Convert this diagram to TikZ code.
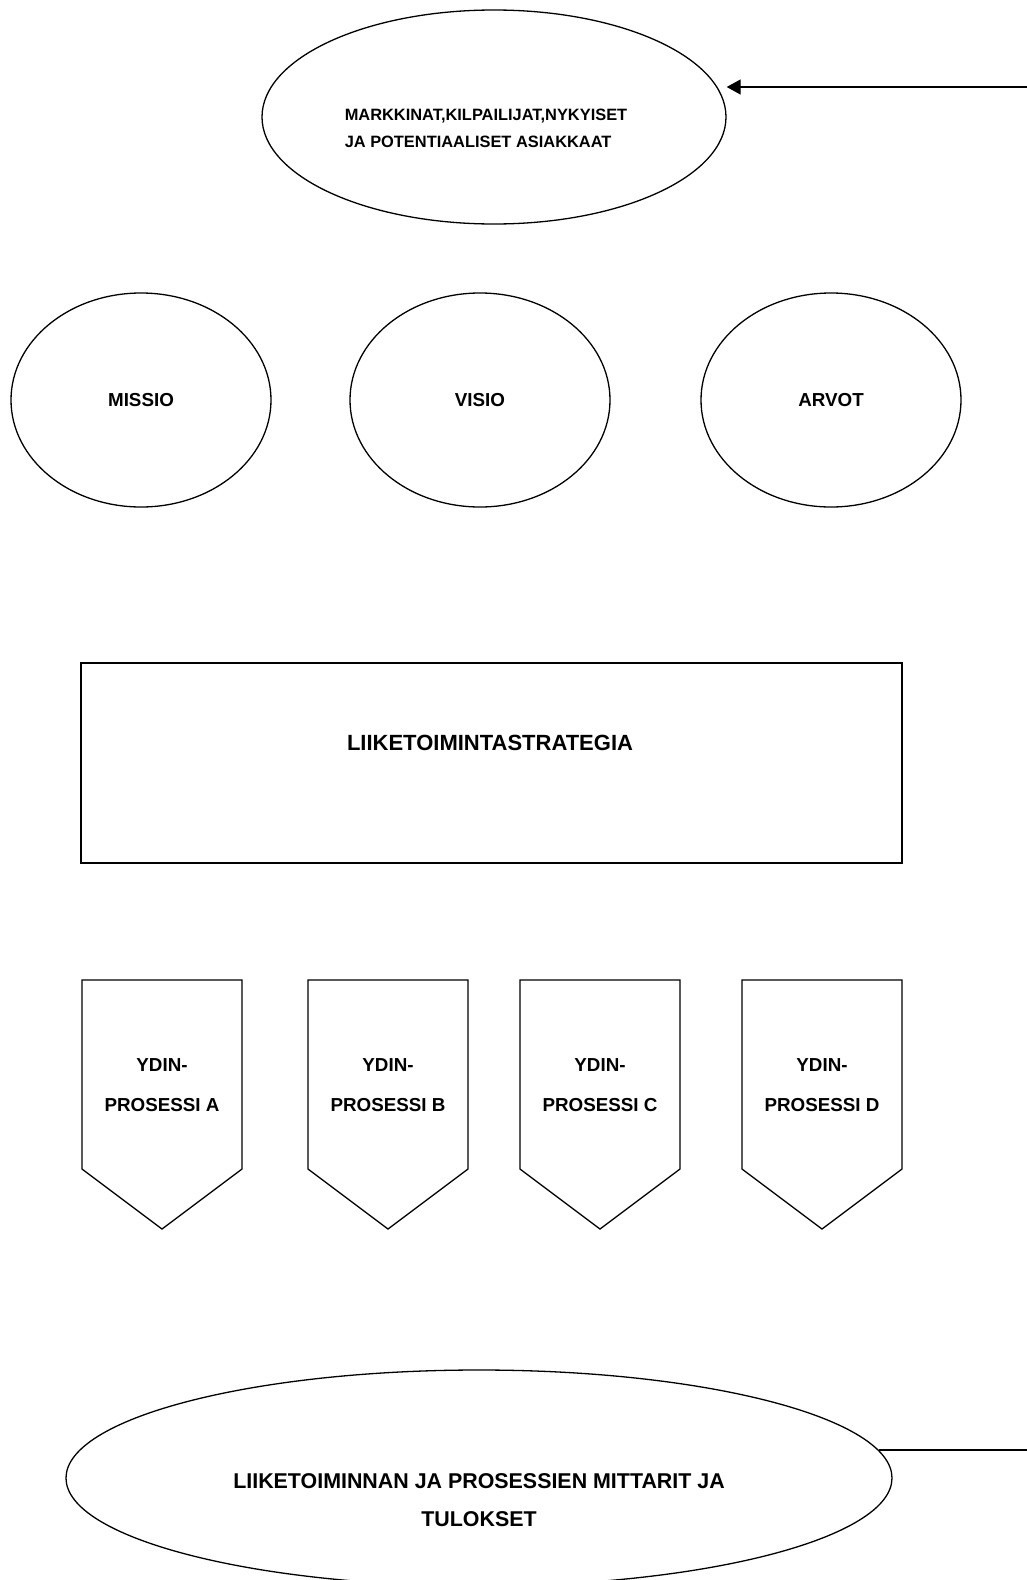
\documentclass[tikz,border=0pt]{standalone}
\usepackage{fontspec}
\setmainfont{Liberation Sans}
\usetikzlibrary{shapes.geometric,arrows.meta}

\begin{document}
\begin{tikzpicture}[x=0.5pt,y=-0.5pt,line width=0.65pt,
    every node/.style={font=\bfseries\fontsize{9.4}{20}\selectfont},
    oval/.style={draw,ellipse,inner sep=0pt}]
                \clip (0,0) rectangle (1027,1580);
                % markkinat
                \node[oval,minimum width=232pt,minimum height=107pt] (markk) at (494,117) {};
                \node[align=left,font=\bfseries\fontsize{8.2}{13.5}\selectfont] (markktxt) at (486,128)
                    {MARKKINAT,KILPAILIJAT,NYKYISET\\JA POTENTIAALISET ASIAKKAAT};
                \coordinate (rin) at (1027,87);
                \draw[-{Triangle[length=7pt,width=7.5pt]}] (rin) -- (markk.east |- rin);
                % missio, visio, arvot
                \foreach \cx/\cn/\ct in {141/missio/MISSIO,480/visio/VISIO,831/arvot/ARVOT}{
                    \node[oval,minimum width=130pt,minimum height=107pt] (\cn) at (\cx,400) {\ct};
                }
                % strategia
                \node[draw,minimum width=410.5pt,minimum height=100pt] (strat) at (491.5,763) {};
                \node[font=\bfseries\fontsize{11}{20}\selectfont] (strattxt) at (490,743) {LIIKETOIMINTASTRATEGIA};
                % ydinprosessit
                \foreach \px/\pl in {162/A,388/B,600/C,822/D}{
                    \draw (\px-80,980) -- (\px+80,980) -- (\px+80,1169) -- (\px,1229) -- (\px-80,1169) -- cycle;
                    \node[align=center] (ydin\pl) at (\px,1085) {YDIN-\\PROSESSI \pl};
                }
                % mittarit
                \node[oval,minimum width=413pt,minimum height=108pt] (mittarit) at (479,1478) {};
                \node[align=center,font=\bfseries\fontsize{10.7}{19}\selectfont] (mittxt) at (479,1500)
                    {LIIKETOIMINNAN JA PROSESSIEN MITTARIT JA\\TULOKSET};
                \coordinate (rout) at (1027,1478);
                \draw (mittarit.4) -- (mittarit.4 -| rout);
            \end{tikzpicture}
\end{document}
